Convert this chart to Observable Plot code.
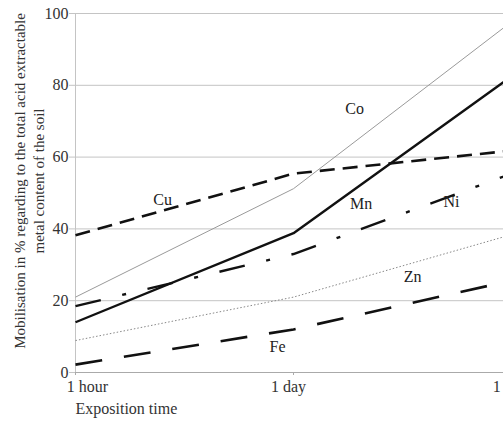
<!DOCTYPE html>
<html><head><meta charset="utf-8">
<script src="https://cdn.jsdelivr.net/npm/d3@7"></script>
<script src="https://cdn.jsdelivr.net/npm/@observablehq/plot@0.6"></script>
<style>html,body{margin:0;padding:0;background:#fff;overflow:hidden;width:503px;height:423px}svg{max-width:none!important}</style>
</head><body><div id="chart"></div>
<script>
const times = ["1 hour", "1 day", "1 week"];
const metals = ["Co", "Mn", "Cu", "Ni", "Zn", "Fe"];
const Co = [21, 51.2, 97.7];
const Mn = [14, 38.8, 82.5];
const Cu = [38.2, 55.4, 61.8];
const Ni = [18.5, 33, 55.4];
const Zn = [8.9, 21, 38.4];
const Fe = [2.2, 12, 25.6];
const labelX = [1.28, 1.31, 0.40, 1.725, 1.546, 0.927];
const labelY = [73.3, 47.1, 48.2, 47.4, 26.5, 7.2];
const yTicks = [0, 20, 40, 60, 80, 100];
const yTitle = "Mobilisation in % regarding to the total acid extractable\nmetal content of the soil";
const xTitle = "Exposition time";

const series = {Co, Mn, Cu, Ni, Zn, Fe};
const rows = metals.flatMap(m => series[m].map((v, i) => ({metal: m, t: i, v})));
const styles = {
  Co: {stroke: "#9a9a9a", strokeWidth: 1},
  Mn: {stroke: "#111", strokeWidth: 2.4},
  Cu: {stroke: "#111", strokeWidth: 2.6, strokeDasharray: "15,8"},
  Ni: {stroke: "#111", strokeWidth: 2.4, strokeDasharray: "26,22,4,22"},
  Zn: {stroke: "#888", strokeWidth: 1, strokeDasharray: "1.5,2"},
  Fe: {stroke: "#111", strokeWidth: 2.6, strokeDasharray: "27,22"}
};
const xLabelShift = [12, -5, 4];

const plot = Plot.plot({
  width: 530, height: 423,
  marginLeft: 75, marginRight: 19, marginTop: 13, marginBottom: 51,
  style: {fontFamily: "'Liberation Serif', 'Times New Roman', serif", fontSize: "16px", color: "#333", background: "#fff", maxWidth: "none"},
  x: {type: "linear", domain: [0, 2], axis: null},
  y: {domain: [0, 100], axis: null},
  marks: [
    Plot.gridY(yTicks, {stroke: "#c4c4c4", strokeOpacity: 1}),
    Plot.axisY({ticks: yTicks, tickSize: 6, tickPadding: 1, stroke: "#c4c4c4", label: null, fontSize: 16}),
    Plot.ruleX([0], {stroke: "#c4c4c4"}),
    Plot.ruleY([0], {stroke: "#aaa"}),
    Plot.axisX({ticks: [0, 1, 2], tickFormat: () => "", tickSize: 3, stroke: "#aaa", label: null}),
    ...[0, 1, 2].map(i => Plot.text([times[i]], {x: () => i, frameAnchor: "bottom", lineAnchor: "top", dy: 8, dx: xLabelShift[i], fontSize: 16, text: d => d, fill: "#333"})),
    ...metals.map(m => Plot.line(rows.filter(r => r.metal === m), {x: "t", y: "v", ...styles[m], strokeLinecap: "butt"})),
    Plot.text(metals, {x: (d, i) => labelX[i], y: (d, i) => labelY[i], text: d => d, fontSize: 16, fill: "#222"}),
    Plot.text([yTitle], {frameAnchor: "left", textAnchor: "middle", lineAnchor: "middle", rotate: -90, dx: -47, dy: -12, fontSize: 15, lineHeight: 1.3, text: d => d, fill: "#333"}),
    Plot.text([xTitle], {frameAnchor: "bottom-left", textAnchor: "start", dy: 41, fontSize: 16, text: d => d, fill: "#333"})
  ]
});
document.getElementById("chart").appendChild(plot);
</script>
</body></html>
